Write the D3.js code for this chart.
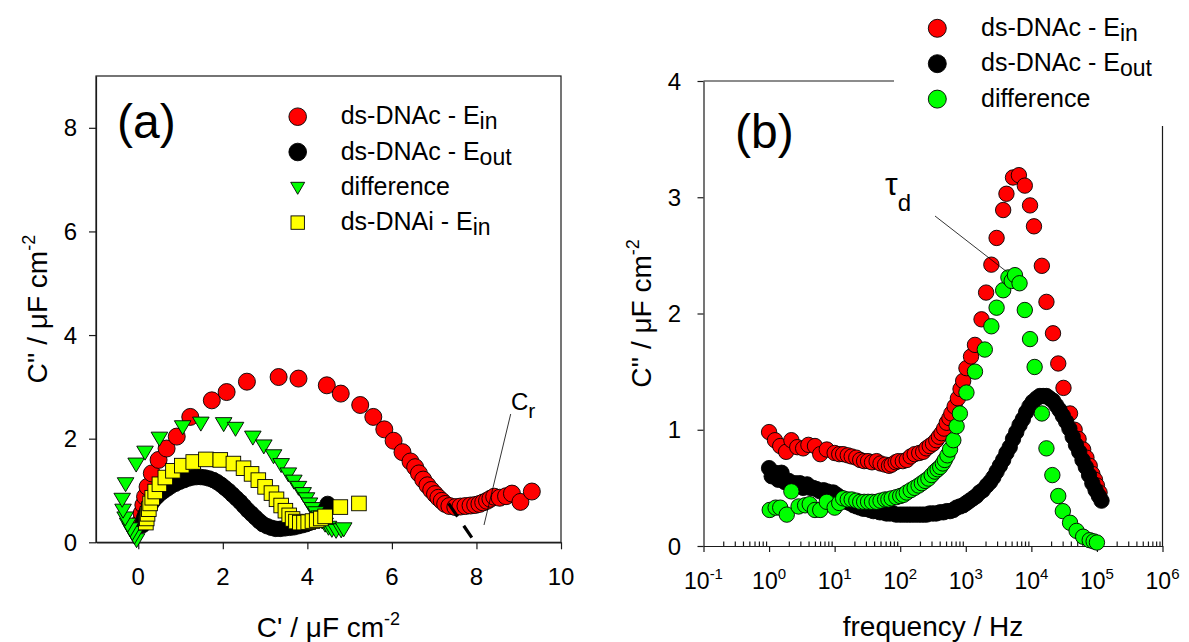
<!DOCTYPE html>
<html><head><meta charset="utf-8">
<script src="https://cdn.jsdelivr.net/npm/d3@7"></script>
<style>
html,body{margin:0;padding:0;background:#fff;}
svg{display:block;font-family:"Liberation Sans",Arial,sans-serif;}
</style></head>
<body>
<svg id="chart" width="1189" height="642"></svg>
<script>
// ---------------- DATA ----------------
// Panel (a): C' (x) vs C'' (y), µF cm^-2
const aRedEin = [[0.05,0.40],[0.08,0.56],[0.12,0.72],[0.16,0.88],[0.22,1.07],[0.32,1.33],[0.48,1.59],[0.67,1.81],[0.91,2.04],[1.23,2.42],[1.74,2.74],[2.09,2.90],[2.57,3.10],[3.32,3.19],[3.79,3.16],[4.46,3.03],[4.79,2.87],[5.25,2.65],[5.56,2.42],[5.82,2.18],[6.04,1.96],[6.25,1.74],[6.44,1.56],[6.55,1.45],[6.64,1.33],[6.74,1.21],[6.84,1.10],[6.93,1.01],[7.02,0.93],[7.10,0.86],[7.18,0.80],[7.26,0.74],[7.36,0.70],[7.50,0.68],[7.62,0.69],[7.74,0.70],[7.86,0.71],[7.97,0.72],[8.07,0.74],[8.16,0.77],[8.25,0.80],[8.33,0.84],[8.42,0.88],[8.55,0.86],[8.70,0.89],[8.84,0.94],[9.04,0.78],[9.31,0.98]];
const aBlackEout = [[0.10,0.33],[0.12,0.40],[0.14,0.47],[0.17,0.54],[0.21,0.61],[0.26,0.68],[0.31,0.75],[0.37,0.82],[0.44,0.88],[0.52,0.94],[0.60,0.99],[0.69,1.04],[0.78,1.09],[0.88,1.13],[0.98,1.17],[1.08,1.20],[1.18,1.23],[1.28,1.25],[1.38,1.26],[1.48,1.26],[1.58,1.25],[1.68,1.23],[1.78,1.20],[1.87,1.16],[1.96,1.11],[2.05,1.05],[2.14,0.99],[2.23,0.92],[2.32,0.85],[2.41,0.78],[2.50,0.70],[2.59,0.62],[2.68,0.55],[2.77,0.48],[2.86,0.41],[2.95,0.35],[3.05,0.31],[3.15,0.28],[3.25,0.26],[3.36,0.26],[3.47,0.27],[3.58,0.28],[3.68,0.29],[3.78,0.31],[3.88,0.33],[3.97,0.35],[4.06,0.38],[4.15,0.42],[4.23,0.46],[4.30,0.51],[4.36,0.56],[4.41,0.61],[4.46,0.66],[4.50,0.71],[4.48,0.74]];
const aDiff = [[-0.04,0.06],[-0.09,0.13],[-0.14,0.20],[-0.19,0.27],[-0.25,0.36],[-0.31,0.48],[-0.36,0.63],[-0.38,0.84],[-0.30,1.14],[-0.05,1.52],[0.16,1.75],[0.50,2.02],[1.05,2.24],[1.48,2.31],[2.02,2.30],[2.30,2.21],[2.71,2.04],[2.97,1.87],[3.20,1.68],[3.38,1.51],[3.55,1.33],[3.68,1.19],[3.79,1.07],[3.90,0.95],[3.98,0.85],[4.05,0.75],[4.12,0.66],[4.20,0.58],[4.28,0.50],[4.35,0.42],[4.42,0.36],[4.50,0.30],[4.58,0.26],[4.68,0.24],[4.80,0.25],[4.86,0.27]];
const aYellowDNAi = [[0.18,0.38],[0.20,0.46],[0.22,0.55],[0.25,0.64],[0.28,0.75],[0.33,0.86],[0.40,0.98],[0.50,1.12],[0.64,1.25],[0.82,1.38],[1.03,1.48],[1.30,1.55],[1.60,1.60],[1.94,1.59],[2.25,1.52],[2.49,1.43],[2.68,1.32],[2.84,1.20],[3.00,1.07],[3.15,0.95],[3.27,0.83],[3.38,0.71],[3.48,0.61],[3.57,0.52],[3.65,0.45],[3.73,0.40],[3.82,0.38],[3.92,0.38],[4.02,0.39],[4.12,0.41],[4.22,0.43],[4.32,0.46],[4.42,0.50],[4.78,0.68],[5.22,0.75]];
const aCrLine = [[7.34,0.75],[7.89,0.09]];

// Panel (b): log10(frequency / Hz) vs C''
const bRedEin = [[0.00,0.98],[0.09,0.91],[0.17,0.86],[0.26,0.81],[0.34,0.91],[0.43,0.85],[0.52,0.84],[0.60,0.87],[0.70,0.86],[0.78,0.79],[0.88,0.83],[1.00,0.80],[1.07,0.79],[1.13,0.79],[1.20,0.78],[1.26,0.77],[1.33,0.76],[1.39,0.74],[1.45,0.73],[1.51,0.73],[1.57,0.72],[1.64,0.73],[1.70,0.71],[1.77,0.70],[1.83,0.69],[1.87,0.70],[1.93,0.72],[1.97,0.73],[2.04,0.73],[2.10,0.74],[2.16,0.77],[2.22,0.79],[2.29,0.80],[2.35,0.81],[2.40,0.84],[2.45,0.86],[2.50,0.88],[2.55,0.91],[2.59,0.94],[2.63,0.97],[2.67,1.01],[2.71,1.06],[2.75,1.10],[2.78,1.14],[2.83,1.20],[2.88,1.27],[2.92,1.35],[2.96,1.42],[3.01,1.53],[3.08,1.63],[3.14,1.73],[3.24,1.95],[3.31,2.18],[3.39,2.42],[3.47,2.65],[3.57,2.89],[3.62,3.03],[3.72,3.17],[3.81,3.19],[3.90,3.10],[3.98,2.93],[4.04,2.75],[4.16,2.41],[4.23,2.10],[4.33,1.83],[4.41,1.57],[4.49,1.36],[4.59,1.14],[4.66,1.00],[4.72,0.92],[4.79,0.83],[4.84,0.76],[4.89,0.69],[4.93,0.62],[4.97,0.57],[5.00,0.52],[5.04,0.46]];
const bBlackEout = [[0.00,0.67],[0.04,0.60],[0.09,0.63],[0.14,0.57],[0.19,0.63],[0.24,0.55],[0.30,0.56],[0.35,0.53],[0.40,0.54],[0.47,0.54],[0.52,0.50],[0.58,0.53],[0.63,0.50],[0.67,0.50],[0.72,0.49],[0.78,0.47],[0.83,0.48],[0.88,0.47],[0.93,0.46],[0.98,0.46],[1.03,0.44],[1.08,0.42],[1.13,0.40],[1.18,0.38],[1.23,0.37],[1.29,0.35],[1.34,0.34],[1.39,0.33],[1.44,0.32],[1.49,0.32],[1.54,0.31],[1.59,0.30],[1.64,0.30],[1.69,0.29],[1.74,0.29],[1.79,0.28],[1.84,0.28],[1.89,0.28],[1.94,0.27],[2.00,0.27],[2.05,0.27],[2.10,0.27],[2.15,0.27],[2.20,0.27],[2.25,0.27],[2.30,0.27],[2.35,0.27],[2.40,0.27],[2.45,0.28],[2.50,0.28],[2.55,0.28],[2.61,0.29],[2.66,0.29],[2.71,0.30],[2.76,0.30],[2.81,0.31],[2.86,0.33],[2.91,0.34],[2.96,0.35],[3.01,0.37],[3.06,0.39],[3.11,0.41],[3.16,0.43],[3.21,0.46],[3.26,0.48],[3.32,0.52],[3.37,0.55],[3.42,0.59],[3.47,0.64],[3.52,0.69],[3.57,0.74],[3.62,0.80],[3.67,0.85],[3.72,0.92],[3.77,0.98],[3.82,1.04],[3.87,1.09],[3.92,1.15],[3.97,1.20],[4.02,1.24],[4.08,1.27],[4.13,1.29],[4.18,1.29],[4.23,1.29],[4.28,1.27],[4.33,1.25],[4.38,1.21],[4.43,1.17],[4.48,1.12],[4.53,1.07],[4.58,1.01],[4.63,0.94],[4.68,0.87],[4.73,0.81],[4.78,0.74],[4.83,0.68],[4.88,0.61],[4.93,0.54],[4.98,0.48],[5.03,0.43],[5.07,0.39]];
const bDiff = [[0.01,0.31],[0.10,0.33],[0.17,0.33],[0.27,0.27],[0.34,0.47],[0.45,0.34],[0.55,0.35],[0.62,0.36],[0.70,0.31],[0.78,0.31],[0.88,0.38],[1.00,0.33],[1.07,0.37],[1.13,0.41],[1.20,0.40],[1.26,0.40],[1.33,0.39],[1.39,0.38],[1.45,0.38],[1.51,0.38],[1.57,0.38],[1.64,0.38],[1.70,0.39],[1.77,0.40],[1.82,0.40],[1.87,0.41],[1.94,0.42],[2.00,0.43],[2.05,0.44],[2.10,0.46],[2.16,0.48],[2.22,0.50],[2.28,0.52],[2.33,0.54],[2.38,0.56],[2.43,0.58],[2.48,0.61],[2.53,0.64],[2.57,0.66],[2.61,0.68],[2.65,0.71],[2.68,0.74],[2.72,0.78],[2.76,0.83],[2.81,0.91],[2.86,1.03],[2.91,1.14],[3.01,1.32],[3.14,1.50],[3.29,1.69],[3.39,1.89],[3.47,2.05],[3.57,2.20],[3.65,2.31],[3.70,2.28],[3.75,2.33],[3.82,2.26],[3.90,2.03],[3.98,1.78],[4.05,1.54],[4.16,1.14],[4.23,0.84],[4.32,0.61],[4.41,0.43],[4.48,0.30],[4.59,0.20],[4.69,0.13],[4.79,0.08],[4.89,0.05],[4.95,0.04],[5.00,0.03]];

const aXTicks = [0,2,4,6,8,10];
const aYTicks = [0,2,4,6,8];
const bYTicks = [0,1,2,3,4];
const bXExponents = [-1,0,1,2,3,4,5,6];

const legendA = [
  {name:"ds-DNAc - E", sub:"in", fill:"#ff0000", shape:"circle"},
  {name:"ds-DNAc - E", sub:"out", fill:"#000000", shape:"circle"},
  {name:"difference", sub:"", fill:"#00ff00", shape:"tri"},
  {name:"ds-DNAi - E", sub:"in", fill:"#ffff00", shape:"square"}
];
const legendB = [
  {name:"ds-DNAc - E", sub:"in", fill:"#ff0000"},
  {name:"ds-DNAc - E", sub:"out", fill:"#000000"},
  {name:"difference", sub:"", fill:"#00ff00"}
];

// ---------------- DRAW ----------------
const svg = d3.select("#chart");
svg.append("rect").attr("width",1189).attr("height",642).attr("fill","#fff");
const AX = "#1a1a1a";

// scales
const xA = d3.scaleLinear().domain([-1,10]).range([96,561]);
const yA = d3.scaleLinear().domain([0,9]).range([542.3,76]);
const xB = d3.scaleLog().domain([0.1,1e6]).range([703.5,1162.5]);
const yB = d3.scaleLinear().domain([0,4]).range([546,81]);
const fq = l => Math.pow(10,l);

function styleAxis(g){
  g.selectAll("path.domain").attr("stroke",AX).attr("stroke-width",1.2);
  g.selectAll(".tick line").attr("stroke",AX).attr("stroke-width",1.2);
}

// ===== Panel (a) =====
const gA = svg.append("g");
gA.append("rect").attr("x",xA(-1)).attr("y",yA(9)).attr("width",xA(10)-xA(-1)).attr("height",yA(0)-yA(9))
  .attr("fill","none").attr("stroke",AX).attr("stroke-width",1.2);
const axA = gA.append("g").attr("transform",`translate(0,${yA(0)})`)
  .call(d3.axisBottom(xA).tickValues(aXTicks).tickSize(7).tickSizeOuter(0).tickFormat(""));
styleAxis(axA);
const ayA = gA.append("g").attr("transform",`translate(${xA(-1)},0)`)
  .call(d3.axisLeft(yA).tickValues(aYTicks).tickSize(7).tickSizeOuter(0).tickFormat(""));
styleAxis(ayA);
gA.selectAll("text.xtl").data(aXTicks).join("text").attr("class","xtl")
  .attr("x",d=>xA(d)).attr("y",585).attr("text-anchor","middle").attr("font-size",24).text(d=>d);
gA.selectAll("text.ytl").data(aYTicks).join("text").attr("class","ytl")
  .attr("x",77).attr("y",d=>yA(d)+8.5).attr("text-anchor","end").attr("font-size",24).text(d=>d);

// axis titles (a)
const tA = gA.append("text").attr("x",(xA(-1)+xA(10))/2).attr("y",637).attr("text-anchor","middle").attr("font-size",28);
tA.append("tspan").text("C' / \u03bcF cm");
tA.append("tspan").attr("dy",-12).attr("font-size",18).text("-2");
const yAt = gA.append("text").attr("transform",`translate(47,${(yA(0)+yA(9))/2}) rotate(-90)`).attr("text-anchor","middle").attr("font-size",28);
yAt.append("tspan").text("C'' / \u03bcF cm");
yAt.append("tspan").attr("dy",-12).attr("font-size",18).text("-2");

gA.append("text").attr("x",117).attr("y",138).attr("font-size",48).text("(a)");

// data (a)
const clipA = gA.append("g");
clipA.selectAll("circle.r").data(aRedEin).join("circle").attr("class","r")
  .attr("cx",d=>xA(d[0])).attr("cy",d=>yA(d[1])).attr("r",8.5)
  .attr("fill","#ff0000").attr("stroke","#000").attr("stroke-width",0.9);
clipA.selectAll("circle.k").data(aBlackEout).join("circle").attr("class","k")
  .attr("cx",d=>xA(d[0])).attr("cy",d=>yA(d[1])).attr("r",7.8)
  .attr("fill","#000").attr("stroke","#000").attr("stroke-width",0.9);
const triPath = "M-8.3,-5.5L8.3,-5.5L0,8.5Z";
clipA.selectAll("path.g").data(aDiff).join("path").attr("class","g")
  .attr("d",triPath).attr("transform",d=>`translate(${xA(d[0])},${yA(d[1])})`)
  .attr("fill","#00ff00").attr("stroke","#000").attr("stroke-width",0.9);
clipA.selectAll("rect.y").data(aYellowDNAi).join("rect").attr("class","y")
  .attr("x",d=>xA(d[0])-7.3).attr("y",d=>yA(d[1])-7.3).attr("width",14.6).attr("height",14.6)
  .attr("fill","#ffff00").attr("stroke","#000").attr("stroke-width",0.9);

// Cr extrapolation
gA.append("line").attr("x1",xA(aCrLine[0][0])).attr("y1",yA(aCrLine[0][1])).attr("x2",xA(aCrLine[1][0])).attr("y2",yA(aCrLine[1][1]))
  .attr("stroke","#000").attr("stroke-width",3.2).attr("stroke-dasharray","16,11");
gA.append("line").attr("x1",510.7).attr("y1",414).attr("x2",484).attr("y2",525).attr("stroke","#000").attr("stroke-width",0.8);
const cr = gA.append("text").attr("x",511).attr("y",410).attr("font-size",24);
cr.append("tspan").text("C");
cr.append("tspan").attr("dy",8).attr("font-size",21).text("r");

// legend (a)
const lgA = gA.append("g");
legendA.forEach((d,i)=>{
  const cy = 116.7 + i*35.3, cx = 297.7;
  if(d.shape==="circle") lgA.append("circle").attr("cx",cx).attr("cy",cy).attr("r",8.8).attr("fill",d.fill).attr("stroke","#000").attr("stroke-width",0.9);
  else if(d.shape==="tri") lgA.append("path").attr("d","M-7,-5L7,-5L0,7Z").attr("transform",`translate(${cx},${cy})`).attr("fill",d.fill).attr("stroke","#000").attr("stroke-width",0.9);
  else lgA.append("rect").attr("x",cx-6.7).attr("y",cy-6.7).attr("width",13.4).attr("height",13.4).attr("fill",d.fill).attr("stroke","#000").attr("stroke-width",0.9);
  const t = lgA.append("text").attr("x",340.7).attr("y",cy+7.5).attr("font-size",25);
  t.append("tspan").text(d.name);
  if(d.sub) t.append("tspan").attr("dy",5).attr("font-size",23).text(d.sub);
});

// ===== Panel (b) =====
const gB = svg.append("g");
const frame = [[xB(0.1),yB(4),xB(1e6),yB(4)],[xB(1e6),yB(4),xB(1e6),yB(0)]];
frame.forEach(f=>gB.append("line").attr("x1",f[0]).attr("y1",f[1]).attr("x2",f[2]).attr("y2",f[3]).attr("stroke",AX).attr("stroke-width",1.2));

const minorTicks = [];
bXExponents.slice(0,-1).forEach(e=>{ for(let m=2;m<=9;m++) minorTicks.push(m*Math.pow(10,e)); });
const majorTicks = bXExponents.map(e=>Math.pow(10,e));

const axBmin = gB.append("g").attr("transform",`translate(0,${yB(0)})`)
  .call(d3.axisBottom(xB).tickValues(minorTicks).tickSize(-4.5).tickSizeOuter(0).tickFormat(""));
styleAxis(axBmin);
const axB = gB.append("g").attr("transform",`translate(0,${yB(0)})`)
  .call(d3.axisBottom(xB).tickValues(majorTicks).tickSize(6).tickSizeOuter(0).tickFormat(""));
styleAxis(axB);
const ayB = gB.append("g").attr("transform",`translate(${xB(0.1)},0)`)
  .call(d3.axisLeft(yB).tickValues(bYTicks).tickSize(6).tickSizeOuter(0).tickFormat(""));
styleAxis(ayB);

bXExponents.forEach(e=>{
  const t = gB.append("text").attr("x",xB(Math.pow(10,e))).attr("y",589).attr("text-anchor","middle").attr("font-size",23);
  t.append("tspan").text("10");
  t.append("tspan").attr("dy",-10).attr("font-size",15).text(e);
});
gB.selectAll("text.ytl").data(bYTicks).join("text").attr("class","ytl")
  .attr("x",681).attr("y",d=>yB(d)+8.5).attr("text-anchor","end").attr("font-size",24).text(d=>d);

gB.append("text").attr("x",(xB(0.1)+xB(1e6))/2).attr("y",636).attr("text-anchor","middle").attr("font-size",28).text("frequency / Hz");
const yBt = gB.append("text").attr("transform",`translate(651,${(yB(0)+yB(4))/2}) rotate(-90)`).attr("text-anchor","middle").attr("font-size",28);
yBt.append("tspan").text("C'' / \u03bcF cm");
yBt.append("tspan").attr("dy",-12).attr("font-size",18).text("-2");

gB.append("text").attr("x",735).attr("y",148).attr("font-size",48).text("(b)");

// data (b)
const bSeries = [[bRedEin,"#ff0000"],[bBlackEout,"#000000"],[bDiff,"#00ff00"]];
bSeries.forEach(([data,col],k)=>{
  gB.selectAll(`circle.s${k}`).data(data).join("circle").attr("class",`s${k}`)
    .attr("cx",d=>xB(fq(d[0]))).attr("cy",d=>yB(d[1])).attr("r",7.7)
    .attr("fill",col).attr("stroke","#000").attr("stroke-width",0.9);
});

// tau_d annotation
gB.append("line").attr("x1",935).attr("y1",216).attr("x2",1006.7).attr("y2",271.7).attr("stroke","#000").attr("stroke-width",0.8);
const td = gB.append("text").attr("x",885).attr("y",195).attr("font-size",32);
td.append("tspan").text("\u03c4");
td.append("tspan").attr("dy",16).attr("font-size",24).text("d");

// legend (b) with white background covering frame corner
const lgB = gB.append("g");
lgB.append("rect").attr("x",894).attr("y",0).attr("width",295).attr("height",126).attr("fill","#fff");
legendB.forEach((d,i)=>{
  const cy = 28.3 + i*35.4, cx = 937.3;
  lgB.append("circle").attr("cx",cx).attr("cy",cy).attr("r",9).attr("fill",d.fill).attr("stroke","#000").attr("stroke-width",0.9);
  const t = lgB.append("text").attr("x",981).attr("y",cy+7.5).attr("font-size",25);
  t.append("tspan").text(d.name);
  if(d.sub) t.append("tspan").attr("dy",5).attr("font-size",23).text(d.sub);
});
</script>
</body></html>
